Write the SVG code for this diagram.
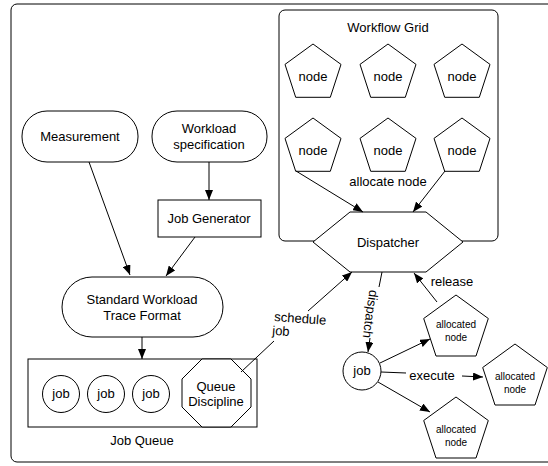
<svg xmlns="http://www.w3.org/2000/svg" width="548" height="466" viewBox="0 0 548 466">
<defs>
<marker id="arr" markerWidth="10" markerHeight="8" refX="10" refY="4" orient="auto" markerUnits="userSpaceOnUse">
<path d="M0,0 L10,4 L0,8 z" fill="#000"/>
</marker>
<style>
.s{fill:#fff;stroke:#000;stroke-width:1}
.c{fill:none;stroke:#000;stroke-width:1}
.a{fill:none;stroke:#000;stroke-width:1;marker-end:url(#arr)}
text{font-family:"Liberation Sans",Arial,Helvetica,sans-serif;font-size:13px;fill:#000;text-anchor:middle}
.sm{font-size:10px}
</style>
</defs>
<rect x="0" y="0" width="548" height="466" fill="#fff"/>
<g id="frame"><rect class="s" x="11" y="4" width="560" height="458" rx="6"/></g>

<g id="workflow-grid">
<rect class="s" x="279" y="10" width="219" height="231" rx="6"/>
<text x="388" y="32">Workflow Grid</text>
</g>

<g id="node1"><polygon class="s" points="313,44 341,64.4 330.3,97.3 295.7,97.3 285,64.4"/><text x="313" y="81">node</text></g>
<g id="node2"><polygon class="s" points="388,44 416,64.4 405.3,97.3 370.7,97.3 360,64.4"/><text x="388" y="81">node</text></g>
<g id="node3"><polygon class="s" points="462,44 490,64.4 479.3,97.3 444.7,97.3 434,64.4"/><text x="462" y="81">node</text></g>
<g id="node4"><polygon class="s" points="313,118 341,138.4 330.3,171.3 295.7,171.3 285,138.4"/><text x="313" y="155">node</text></g>
<g id="node5"><polygon class="s" points="388,118 416,138.4 405.3,171.3 370.7,171.3 360,138.4"/><text x="388" y="155">node</text></g>
<g id="node6"><polygon class="s" points="462,118 490,138.4 479.3,171.3 444.7,171.3 434,138.4"/><text x="462" y="155">node</text></g>

<g id="measurement"><rect class="s" x="22" y="111" width="116" height="51" rx="25"/><text x="80" y="141">Measurement</text></g>
<g id="workload-spec"><rect class="s" x="152" y="111" width="115" height="51" rx="25"/><text x="209" y="133">Workload</text><text x="209" y="149">specification</text></g>
<g id="job-generator"><rect class="s" x="158" y="200" width="103" height="37"/><text x="209" y="223">Job Generator</text></g>
<g id="swtf"><rect class="s" x="62" y="277" width="161" height="60" rx="30"/><text x="142" y="304">Standard Workload</text><text x="142" y="320">Trace Format</text></g>

<g id="job-queue">
<rect class="s" x="28" y="359" width="229" height="68"/>
<text x="142" y="445">Job Queue</text>
</g>
<g id="job-q1"><circle class="s" cx="61" cy="394" r="18.5"/><text x="61" y="398">job</text></g>
<g id="job-q2"><circle class="s" cx="106" cy="394" r="18.5"/><text x="106" y="398">job</text></g>
<g id="job-q3"><circle class="s" cx="151" cy="394" r="18.5"/><text x="151" y="398">job</text></g>
<g id="queue-discipline"><polygon class="s" points="202,359 231,359 251,379 251,407 231,427 202,427 182,407 182,379"/><text x="216" y="391">Queue</text><text x="216" y="406">Discipline</text></g>

<g id="dispatcher"><polygon class="s" points="350,212 426,212 463,242 426,272 350,272 313,242"/><text x="388" y="247">Dispatcher</text></g>

<g id="job"><circle class="s" cx="362" cy="371" r="19"/><text x="362" y="375">job</text></g>

<g id="alloc1"><polygon class="s" points="456,295 488.3,318.5 476,356 436,356 423.7,318.5"/><text class="sm" x="456" y="328">allocated</text><text class="sm" x="456" y="341">node</text></g>
<g id="alloc2"><polygon class="s" points="515,344 547.3,367.5 535,405 495,405 482.7,367.5"/><text class="sm" x="515" y="380">allocated</text><text class="sm" x="515" y="393">node</text></g>
<g id="alloc3"><polygon class="s" points="456,397 488.3,420.5 476,458 436,458 423.7,420.5"/><text class="sm" x="456" y="433">allocated</text><text class="sm" x="456" y="446">node</text></g>

<g id="connectors">
<line class="a" x1="89" y1="162" x2="130" y2="275"/>
<line class="a" x1="209" y1="162" x2="209" y2="200"/>
<line class="a" x1="195" y1="237" x2="166" y2="276"/>
<line class="a" x1="142" y1="337" x2="142" y2="359"/>
<line class="a" x1="296" y1="171" x2="363" y2="212"/>
<line class="a" x1="445" y1="171" x2="413" y2="212"/>
<text x="388" y="186">allocate node</text>
<line class="c" x1="241" y1="372" x2="274" y2="341"/>
<line class="a" x1="308" y1="311" x2="352" y2="272"/>
<g transform="rotate(4 274 321)"><text x="274" y="321" style="text-anchor:start">schedule</text><text x="273" y="335" style="text-anchor:start">job</text></g>
<line class="c" x1="382" y1="272" x2="379" y2="287"/>
<line class="a" x1="370" y1="338" x2="368" y2="352"/>
<text x="0" y="0" transform="translate(370 314) rotate(98)" dy="4">dispatch</text>
<line class="a" x1="437" y1="302" x2="414" y2="273"/>
<text x="452" y="286">release</text>
<line class="a" x1="380" y1="363" x2="430" y2="339"/>
<line class="c" x1="381" y1="372" x2="406" y2="373"/>
<text x="432" y="380">execute</text>
<line class="a" x1="462" y1="376" x2="483" y2="377"/>
<line class="a" x1="378" y1="382" x2="430" y2="412"/>
</g>
</svg>
